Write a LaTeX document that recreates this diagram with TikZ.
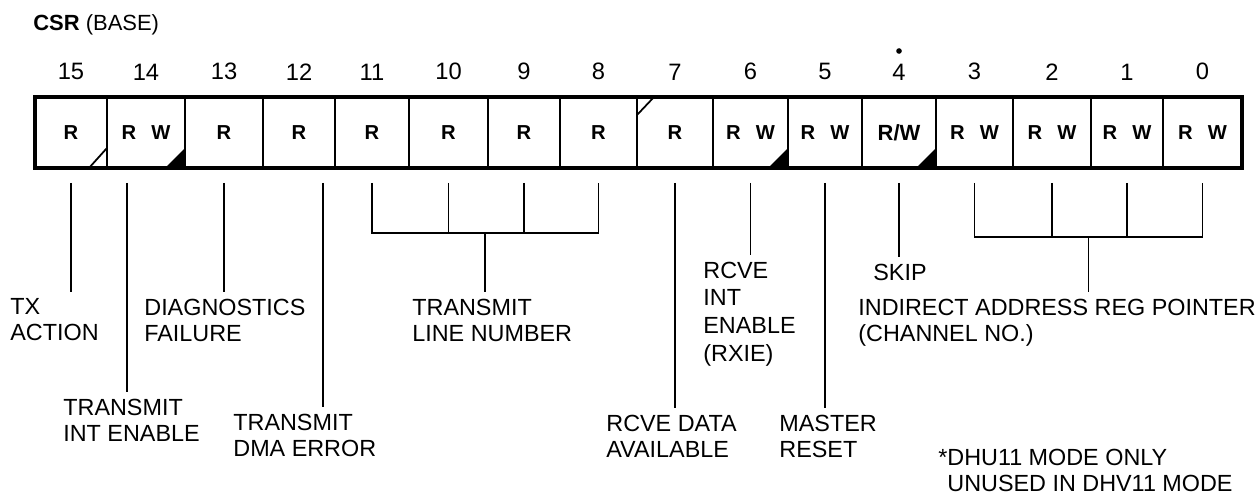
\documentclass[tikz,border=0pt]{standalone}
\usepackage{fontspec}
\setmainfont{Liberation Sans}
\usetikzlibrary{positioning,calc}
\newcommand{\RW}{R\hspace{0.3cm}W}
\newcommand{\RWb}{{\fontsize{12.5}{14}\selectfont R/W}}

\begin{document}
\begin{tikzpicture}[x=0.02cm,y=-0.02cm,
    cell/.style={draw,line width=1.6pt,minimum height=1.42cm,inner sep=0,outer sep=0,font=\fontsize{11.5}{13}\selectfont\bfseries},
    bitnum/.style={inner sep=0,font=\fontsize{13.5}{16}\selectfont},
    desc/.style={anchor=north west,align=left,inner sep=4pt,font=\fontsize{13.3}{14.8}\selectfont},
    lead/.style={line width=0.9pt}]
    \useasboundingbox (0,0) rectangle (1260,498);
    \node[anchor=base west,inner sep=0,font=\fontsize{12.5}{15}\selectfont] (title) at (33,30) {\textbf{CSR} (BASE)};
    % register cells and bit numbers
    \foreach \bit/\l/\r/\txt in {15/35/107/R,14/107/185/\RW,13/185/263/R,12/263/335/R,
        11/335/409/R,10/409/488/R,9/488/560/R,8/560/637/R,7/637/713/R,6/713/788/\RW,
        5/788/862/\RW,4/862/936/\RWb,3/936/1013/\RW,2/1013/1091/\RW,1/1091/1163/\RW,0/1163/1242/\RW}{
        \node[cell,minimum width={(\r-\l)*0.02cm}] (c\bit) at ({(\l+\r)/2},132.5) {\txt};
        \node[bitnum,above=0.33cm of c\bit] (n\bit) {\bit};
    }
    \draw[line width=2pt] (c15.north west) rectangle (c0.south east);
    \fill ([yshift=0.25cm]n4.north) circle (1.6pt);
    % corner marks
    \draw[line width=1pt] ([xshift=-0.36cm]c15.south east) -- ([yshift=0.4cm]c15.south east);
    \foreach \bit in {14,6,4}
        \fill ([xshift=-0.4cm]c\bit.south east) -- ([yshift=0.4cm]c\bit.south east) -- (c\bit.south east) -- cycle;
    \draw[line width=1pt] ([yshift=-0.36cm]c7.north west) -- ([xshift=0.34cm]c7.north west);
    % tops of the leader lines
    \foreach \bit in {15,13,11,10,9,8,7,6,5,4,3,2,1,0}
        \coordinate (t\bit) at ([yshift=-0.3cm]c\bit.south);
    \coordinate (t14) at ([xshift=-0.38cm,yshift=-0.3cm]c14.south);
    \coordinate (t12) at ([xshift=0.48cm,yshift=-0.3cm]c12.south);
    % field names
    \node[desc] (tx) at (3,291.5) {TX\\ACTION};
    \node[desc] (txie) at (56,391.5) {TRANSMIT\\INT ENABLE};
    \node[desc] (diag) at (137,291.5) {DIAGNOSTICS\\FAILURE};
    \node[desc] (dma) at (226,406.5) {TRANSMIT\\DMA ERROR};
    \node[desc] (tln) at (405,291.5) {TRANSMIT\\LINE NUMBER};
    \node[desc] (rda) at (599,407.5) {RCVE DATA\\AVAILABLE};
    \node[desc,font=\fontsize{13.3}{15.8}\selectfont] (rxie) at (696,254.5) {RCVE\\INT\\ENABLE\\(RXIE)};
    \node[desc] (mrst) at (772,407.5) {MASTER\\RESET};
    \node[desc] (skip) at (866,256.5) {SKIP};
    \node[desc] (iarp) at (851,291.5) {INDIRECT ADDRESS REG POINTER\\(CHANNEL NO.)};
    \node[desc] (note) at (940,441.5) {\llap{*}DHU11 MODE ONLY\\UNUSED IN DHV11 MODE};
    % single bit leaders
    \foreach \bit/\d in {15/tx,14/txie,13/diag,12/dma,7/rda,6/rxie,5/mrst,4/skip}
        \draw[lead] (t\bit) -- (t\bit |- \d.north);
    % line number bracket
    \coordinate (bk) at ([yshift=-1cm]t11);
    \draw[lead] (t11) -- (bk) -- (bk -| t8) -- (t8);
    \foreach \bit in {10,9}
        \draw[lead] (t\bit) -- (t\bit |- bk);
    \coordinate (bkm) at ($(bk)!0.5!(bk -| t8)$);
    \draw[lead] (bkm) -- (bkm |- tln.north);
    % channel number bracket
    \coordinate (bi) at ([yshift=-1.08cm]t3);
    \draw[lead] (t3) -- (bi) -- (bi -| t0) -- (t0);
    \foreach \bit in {2,1}
        \draw[lead] (t\bit) -- (t\bit |- bi);
    \coordinate (bim) at ($(bi)!0.5!(bi -| t0)$);
    \draw[lead] (bim) -- (bim |- iarp.north);
\end{tikzpicture}
\end{document}
